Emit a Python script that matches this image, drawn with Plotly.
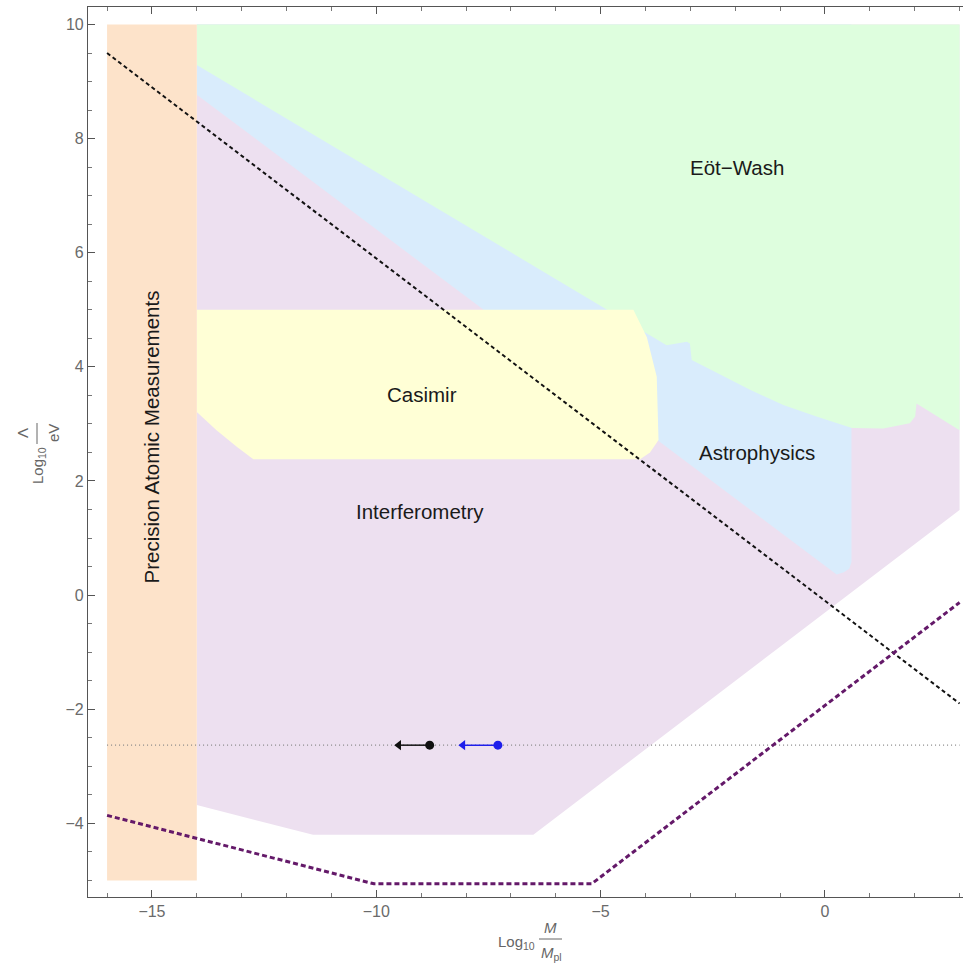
import plotly.graph_objects as go

# ---- exclusion regions in the (log10 M/Mpl, log10 Lambda/eV) plane ----
atomic_x = [-16, -14, -14, -16]
atomic_y = [-5, -5, 10, 10]

interf_x = [-14, -14, -11.41, -6.5, 3.0, 3.0]
interf_y = [10, -3.68, -4.2, -4.2, 1.49, 10]

astro_x = [-14, -14, 0.26, 0.42, 0.54, 0.59, 0.59]
astro_y = [10, 8.77, 0.36, 0.40, 0.46, 0.58, 10]

eotwash_x = [-14, 3.0, 3.0, 2.04, 2.01, 1.89, 1.30, 0.60, -0.19, -0.93, -1.67,
             -2.41, -2.97, -3.01, -3.08, -3.53, -14]
eotwash_y = [10, 10, 2.89, 3.36, 3.13, 3.01, 2.92, 2.93, 3.13, 3.33, 3.60,
             3.89, 4.12, 4.41, 4.44, 4.38, 9.29]

casimir_x = [-14, -4.27, -3.97, -3.75, -3.71, -3.90, -4.12, -12.74, -13.11, -13.56, -14]
casimir_y = [5.0, 5.0, 4.52, 3.83, 2.72, 2.50, 2.38, 2.38, 2.60, 2.89, 3.21]

# ---- curves ----
dashed_x = [-16, 3]
dashed_y = [9.5, -1.9]

purple_x = [-16, -10.05, -5.2, 3]
purple_y = [-3.86, -5.06, -5.06, -0.13]

level_y = -2.63
level_x = [-16, 3]

black_pt = -8.81
black_tip = -9.50
blue_pt = -7.29
blue_tip = -8.07

FONT = "Liberation Sans, Arial, sans-serif"

fig = go.Figure()

def region(xs, ys, color):
    fig.add_trace(go.Scatter(x=xs, y=ys, fill="toself", fillcolor=color,
                             mode="lines", line=dict(width=0, color=color),
                             hoverinfo="skip", showlegend=False))

region(interf_x, interf_y, "rgb(237,224,240)")
region(astro_x, astro_y, "rgb(217,236,252)")
region(eotwash_x, eotwash_y, "rgb(222,254,222)")
region(casimir_x, casimir_y, "rgb(255,255,214)")
region(atomic_x, atomic_y, "rgb(253,227,202)")

fig.add_trace(go.Scatter(x=level_x, y=[level_y, level_y], mode="lines",
                         line=dict(color="#888888", width=1.3, dash="1px,3px"),
                         hoverinfo="skip", showlegend=False))
fig.add_trace(go.Scatter(x=dashed_x, y=dashed_y, mode="lines",
                         line=dict(color="#111111", width=2, dash="4px,3px"),
                         hoverinfo="skip", showlegend=False))
fig.add_trace(go.Scatter(x=purple_x, y=purple_y, mode="lines",
                         line=dict(color="rgb(100,25,105)", width=3, dash="5px,3px"),
                         hoverinfo="skip", showlegend=False))

# flow arrows: shaft, arrowhead at the tip, dot at the start
for pt, tip, col in [(black_pt, black_tip, "#111111"), (blue_pt, blue_tip, "rgb(30,30,235)")]:
    fig.add_trace(go.Scatter(x=[pt, tip], y=[level_y, level_y], mode="lines",
                             line=dict(color=col, width=1.5),
                             hoverinfo="skip", showlegend=False))
    fig.add_trace(go.Scatter(x=[tip], y=[level_y], mode="markers",
                             marker=dict(color=col, size=9, symbol="triangle-left"),
                             hoverinfo="skip", showlegend=False))
    fig.add_trace(go.Scatter(x=[pt], y=[level_y], mode="markers",
                             marker=dict(color=col, size=9),
                             hoverinfo="skip", showlegend=False))

# region labels
labels = [
    ("Eöt−Wash", -1.96, 7.49, 0),
    ("Casimir", -8.98, 3.51, 0),
    ("Astrophysics", -1.52, 2.50, 0),
    ("Interferometry", -9.03, 1.47, 0),
    ("Precision Atomic Measurements", -15.0, 2.78, -90),
]
for txt, x, y, ang in labels:
    fig.add_annotation(x=x, y=y, text=txt, showarrow=False, textangle=ang,
                       xanchor="center", yanchor="middle",
                       font=dict(family=FONT, size=20.5, color="#1a1a1a"))

# axis titles built from text pieces and a fraction bar
L, T, W, H = 88, 7, 875, 890
def px(xp):
    return (xp - L) / W
def py(yp):
    return (T + H - yp) / H

title_font = dict(family=FONT, size=15, color="#666666")

def title_piece(xp, yp, txt, ang=0):
    fig.add_annotation(x=px(xp), y=py(yp), xref="paper", yref="paper", text=txt,
                       showarrow=False, textangle=ang, xanchor="center", yanchor="middle",
                       font=title_font)

title_piece(516, 942, "Log<sub>10</sub>")
title_piece(550, 927, "<i>M</i>")
title_piece(551, 953, "<i>M</i><sub>pl</sub>")
fig.add_shape(type="line", xref="paper", yref="paper", x0=px(539), x1=px(562),
              y0=py(939), y1=py(939), line=dict(color="#666666", width=1))

title_piece(38, 466, "Log<sub>10</sub>", -90)
title_piece(22, 433, "Λ", -90)
title_piece(53, 433, "eV", -90)
fig.add_shape(type="line", xref="paper", yref="paper", x0=px(37), x1=px(37),
              y0=py(423), y1=py(444), line=dict(color="#666666", width=1))

axis_common = dict(showgrid=False, zeroline=False, showline=True, linecolor="#555555",
                   linewidth=1.2, ticks="inside", ticklen=7, tickwidth=1, tickcolor="#555555",
                   tickfont=dict(family=FONT, size=16, color="#6a6a6a"))

fig.update_xaxes(range=[-16.425, 3.076], dtick=5, tick0=0, mirror="ticks",
                 minor=dict(dtick=1, ticks="inside", ticklen=4, tickcolor="#777777"),
                 **axis_common)
fig.update_yaxes(range=[-5.291, 10.307], dtick=2, tick0=0, mirror=False,
                 minor=dict(dtick=0.5, ticks="inside", ticklen=4, tickcolor="#777777"),
                 **axis_common)

fig.update_layout(width=963, height=975, margin=dict(l=L, r=0, t=T, b=975 - T - H),
                  plot_bgcolor="white", paper_bgcolor="white", showlegend=False)

fig.write_html("out.html")
